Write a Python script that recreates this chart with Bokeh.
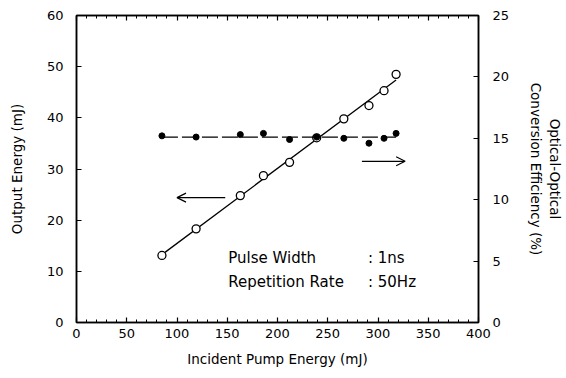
import numpy as np
from bokeh.plotting import figure
from bokeh.models import (Range1d, LinearAxis, Label, Arrow, OpenHead,
                          FixedTicker, CustomJSTickFormatter)
from bokeh.embed import file_html
from bokeh.resources import INLINE

# ---- data ----
pump_energy = [85, 119, 163, 186, 212, 239, 266, 291, 306, 318]          # mJ
output_energy = [13.1, 18.3, 24.8, 28.7, 31.3, 36.1, 39.8, 42.4, 45.3, 48.5]  # mJ
efficiency = [15.2, 15.1, 15.3, 15.4, 14.9, 15.1, 15.0, 14.6, 15.0, 15.4]   # %

x_ticks = [0, 50, 100, 150, 200, 250, 300, 350, 400]
left_ticks = [0, 10, 20, 30, 40, 50, 60]
right_ticks = [0, 5, 10, 15, 20, 25]

FONT = "DejaVu Sans"

p = figure(width=566, height=374, output_backend="svg", toolbar_location=None,
           x_range=Range1d(0, 400), y_range=Range1d(0, 60),
           min_border_left=76, min_border_right=88, min_border_top=15,
           min_border_bottom=52)
p.extra_y_ranges = {"eff": Range1d(0, 25)}
p.grid.visible = False
p.outline_line_color = "black"
p.outline_line_width = 1.5
p.background_fill_color = "white"
p.border_fill_color = "white"

def style_axis(ax, minor=True):
    ax.axis_line_color = "black"
    ax.axis_line_width = 1.5
    ax.major_tick_in = 5
    ax.major_tick_out = 0
    ax.major_tick_line_width = 1.2
    ax.minor_tick_in = 3 if minor else 0
    ax.minor_tick_out = 0
    ax.minor_tick_line_width = 1.0
    ax.major_label_text_font = FONT
    ax.major_label_text_font_size = "13px"
    ax.major_label_text_color = "black"
    ax.axis_label_text_font = FONT
    ax.axis_label_text_font_size = "13.5px"
    ax.axis_label_text_font_style = "normal"
    ax.axis_label_text_color = "black"

minor_x = list(range(0, 401, 10))

# bottom axis
xa = p.xaxis[0]
xa.ticker = FixedTicker(ticks=x_ticks, minor_ticks=minor_x)
xa.axis_label = "Incident Pump Energy (mJ)"
style_axis(xa)
xa.major_label_standoff = 6
xa.axis_label_standoff = 10

# left axis
ya = p.yaxis[0]
ya.ticker = FixedTicker(ticks=left_ticks)
ya.axis_label = "Output Energy (mJ)"
style_axis(ya, minor=False)
ya.major_label_standoff = 13
ya.axis_label_standoff = 19

# top axis (ticks only, no labels)
ta = LinearAxis(ticker=FixedTicker(ticks=x_ticks, minor_ticks=minor_x),
                formatter=CustomJSTickFormatter(code="return ''"))
style_axis(ta)
ta.major_label_standoff = 0
p.add_layout(ta, "above")

# right axis
ra = LinearAxis(y_range_name="eff", ticker=FixedTicker(ticks=right_ticks),
                axis_label="Optical-Optical\nConversion Efficiency (%)")
style_axis(ra, minor=False)
ra.major_label_standoff = 14
ra.axis_label_standoff = 16
p.add_layout(ra, "right")

# output energy: linear fit + open circles
slope, icpt = np.polyfit(pump_energy, output_energy, 1)
fx = np.array([min(pump_energy), max(pump_energy)])
p.line(fx, slope * fx + icpt, line_color="black", line_width=1.3)
p.scatter(pump_energy, output_energy, marker="circle", size=8,
          fill_color="white", line_color="black", line_width=1.3)

# efficiency: mean line + filled dots
eff_mean = float(np.mean(efficiency))
p.line(fx, [eff_mean, eff_mean], y_range_name="eff", line_color="black",
       line_width=1.2, line_dash="16 4")
p.scatter(pump_energy, efficiency, y_range_name="eff", marker="circle",
          size=6, fill_color="black", line_color="black")

# arrows indicating axes
p.add_layout(Arrow(end=OpenHead(size=9, line_width=1.2, line_color="black"),
                   x_start=148, y_start=24.4, x_end=100, y_end=24.4,
                   line_width=1.2, line_color="black"))
p.add_layout(Arrow(end=OpenHead(size=9, line_width=1.2, line_color="black"),
                   x_start=284, y_start=31.5, x_end=327, y_end=31.5,
                   line_width=1.2, line_color="black"))

# annotation text
for txt, x, y in [("Pulse Width", 151, 12.7), (": 1ns", 290, 12.7),
                  ("Repetition Rate", 151, 8.0), (": 50Hz", 290, 8.0)]:
    p.add_layout(Label(x=x, y=y, text=txt, text_font=FONT,
                       text_font_size="15px", text_baseline="middle",
                       text_color="black"))

open("out.html", "w").write(file_html(p, INLINE))
